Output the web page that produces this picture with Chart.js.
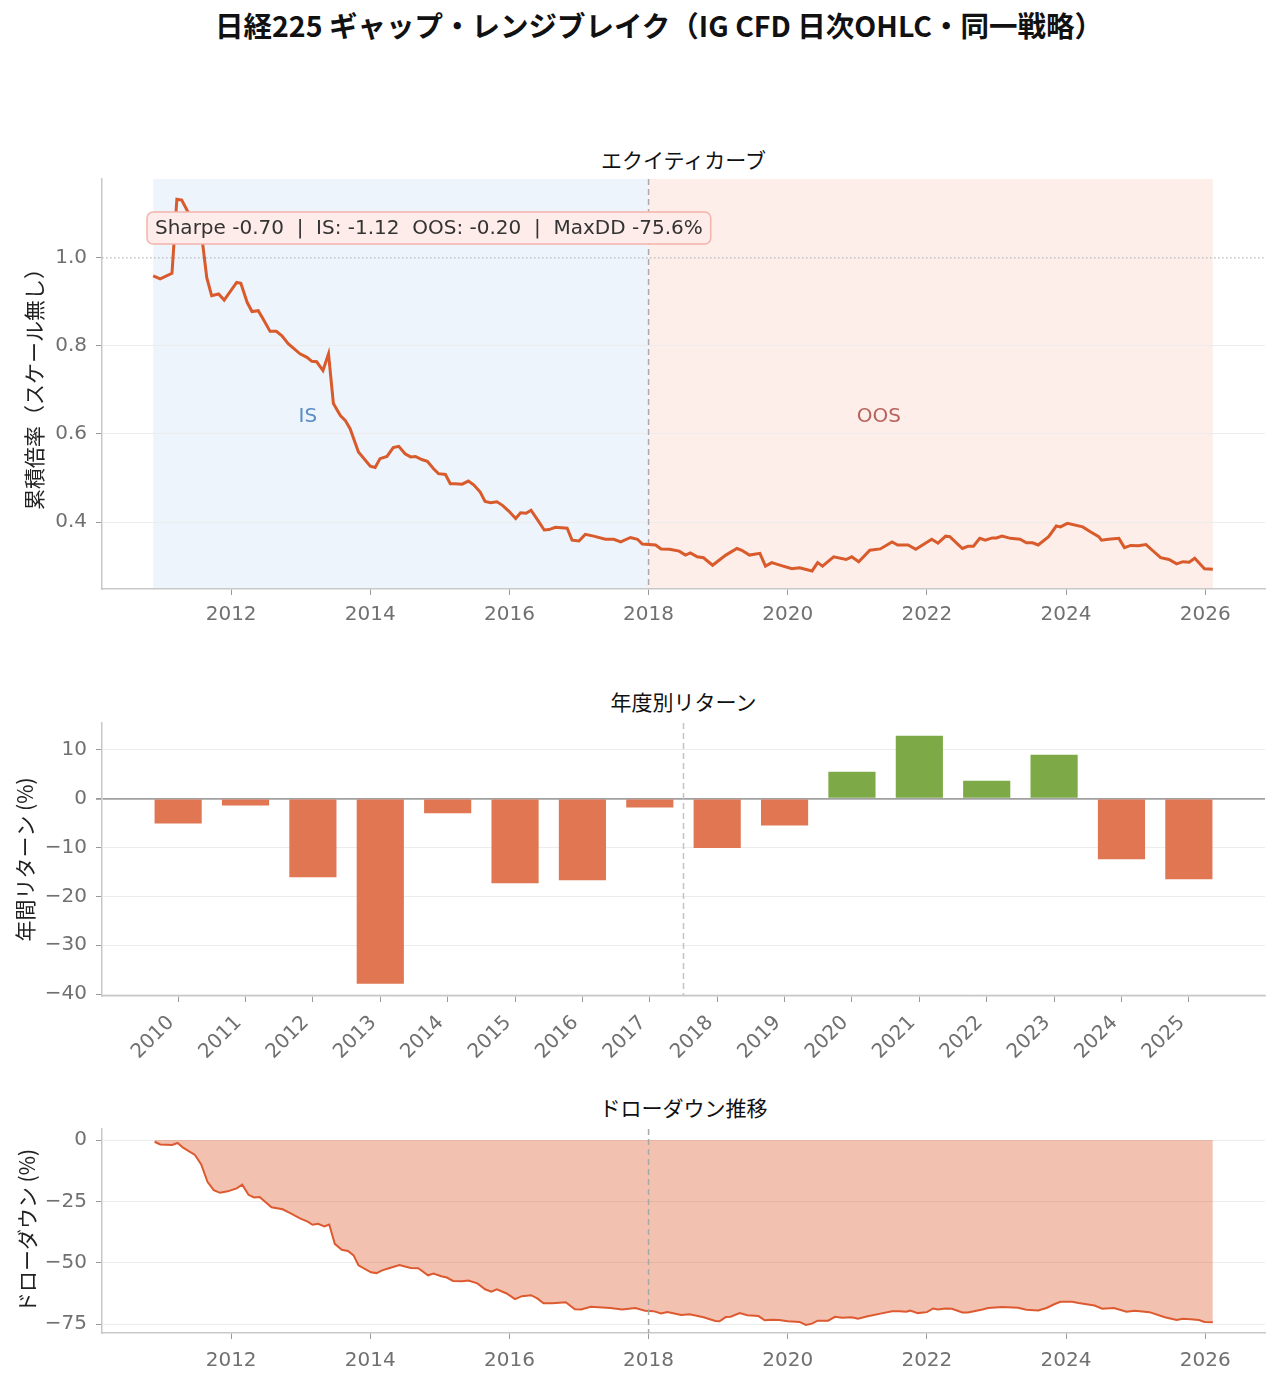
<!DOCTYPE html>
<html lang="ja">
<head>
<meta charset="utf-8">
<title>日経225 ギャップ・レンジブレイク</title>
<script src="https://cdn.jsdelivr.net/npm/chart.js@4.4.1/dist/chart.umd.min.js"></script>
<style>
  html, body { margin: 0; padding: 0; background: #fff; }
  body { width: 1279px; height: 1384px; position: relative; overflow: hidden; font-family: "Noto Sans CJK JP", sans-serif; }
  .title { position: absolute; left: 0; width: 1318px; top: 7px; text-align: center; font-size: 28.5px; font-weight: bold; line-height: 36px; color: #111; }
  .sub { position: absolute; left: 102px; width: 1163px; text-align: center; font-size: 21px; line-height: 24px; color: #111; }
  canvas { position: absolute; left: 0; }
</style>
</head>
<body>
<div class="title">日経225 ギャップ・レンジブレイク（IG CFD 日次OHLC・同一戦略）</div>
<div class="sub" style="top:147px">エクイティカーブ</div>
<canvas id="eq" width="1279" height="472" style="top:158px"></canvas>
<div class="sub" style="top:689px">年度別リターン</div>
<canvas id="yr" width="1279" height="374" style="top:702px"></canvas>
<div class="sub" style="top:1095px">ドローダウン推移</div>
<canvas id="dd" width="1279" height="274" style="top:1108px"></canvas>
<script>
// equity curve (decimal year, multiple)
const EQUITY_T = [2010.88, 2010.98, 2011.15, 2011.22, 2011.29, 2011.41, 2011.58, 2011.65, 2011.72, 2011.82, 2011.90,
  2012.08, 2012.14, 2012.23, 2012.30, 2012.39, 2012.46, 2012.56, 2012.65, 2012.73, 2012.82, 2012.99,
  2013.09, 2013.16, 2013.23, 2013.32, 2013.40, 2013.47, 2013.57, 2013.64, 2013.71, 2013.83,
  2014.00, 2014.07, 2014.14, 2014.24, 2014.33, 2014.41, 2014.50, 2014.58, 2014.65, 2014.74, 2014.82, 2014.91, 2014.98,
  2015.08, 2015.15, 2015.22, 2015.32, 2015.41, 2015.49, 2015.58, 2015.65, 2015.73, 2015.82, 2015.90, 2015.99,
  2016.09, 2016.16, 2016.24, 2016.31, 2016.40, 2016.50, 2016.57, 2016.66, 2016.83, 2016.90,
  2017.00, 2017.09, 2017.21, 2017.38, 2017.50, 2017.60, 2017.74, 2017.84, 2017.91,
  2018.10, 2018.18, 2018.30, 2018.44, 2018.53, 2018.60, 2018.70, 2018.79, 2018.92,
  2019.11, 2019.27, 2019.34, 2019.45, 2019.60, 2019.68, 2019.77, 2019.91,
  2020.06, 2020.17, 2020.35, 2020.43, 2020.50, 2020.66, 2020.84, 2020.92,
  2021.02, 2021.18, 2021.33, 2021.50, 2021.58, 2021.73, 2021.84,
  2022.07, 2022.16, 2022.27, 2022.33, 2022.51, 2022.59, 2022.67, 2022.76, 2022.84, 2022.94,
  2023.00, 2023.08, 2023.20, 2023.34, 2023.43, 2023.52, 2023.60, 2023.75, 2023.86, 2023.92,
  2024.02, 2024.24, 2024.35, 2024.47, 2024.51, 2024.61, 2024.76, 2024.84, 2024.93,
  2025.04, 2025.15, 2025.24, 2025.36, 2025.48, 2025.59, 2025.68, 2025.77, 2025.85, 2025.99, 2026.11];
const EQUITY_V = [0.959, 0.952, 0.965, 1.133, 1.131, 1.095, 1.046, 0.955, 0.914, 0.918, 0.904,
  0.944, 0.942, 0.899, 0.878, 0.880, 0.861, 0.833, 0.833, 0.823, 0.805, 0.782,
  0.774, 0.765, 0.764, 0.744, 0.782, 0.669, 0.642, 0.631, 0.612, 0.559,
  0.527, 0.524, 0.544, 0.549, 0.569, 0.572, 0.555, 0.548, 0.549, 0.542, 0.538, 0.521, 0.510,
  0.508, 0.487, 0.487, 0.486, 0.493, 0.484, 0.468, 0.447, 0.444, 0.446, 0.438, 0.425,
  0.408, 0.421, 0.420, 0.427, 0.406, 0.382, 0.383, 0.388, 0.386, 0.359,
  0.357, 0.372, 0.368, 0.361, 0.361, 0.355, 0.365, 0.361, 0.350,
  0.348, 0.339, 0.338, 0.334, 0.325, 0.330, 0.321, 0.319, 0.302,
  0.325, 0.340, 0.336, 0.325, 0.329, 0.300, 0.308, 0.301,
  0.294, 0.296, 0.289, 0.308, 0.300, 0.321, 0.315, 0.321,
  0.310, 0.336, 0.339, 0.355, 0.348, 0.348, 0.338,
  0.361, 0.352, 0.368, 0.367, 0.340, 0.345, 0.345, 0.363, 0.359, 0.364,
  0.364, 0.368, 0.363, 0.361, 0.353, 0.353, 0.348, 0.367, 0.391, 0.389,
  0.397, 0.389, 0.378, 0.367, 0.359, 0.361, 0.363, 0.342, 0.347,
  0.346, 0.349, 0.336, 0.319, 0.315, 0.305, 0.310, 0.309, 0.318, 0.294, 0.293];

// drawdown (decimal year, %)
const DD_T = [2010.90, 2010.98, 2011.15, 2011.23, 2011.31, 2011.48, 2011.57, 2011.66, 2011.75, 2011.84, 2011.95,
  2012.08, 2012.16, 2012.25, 2012.33, 2012.41, 2012.58, 2012.74, 2012.85, 2012.99,
  2013.10, 2013.17, 2013.25, 2013.34, 2013.41, 2013.49, 2013.59, 2013.68, 2013.76, 2013.83,
  2014.01, 2014.09, 2014.17, 2014.28, 2014.42, 2014.58, 2014.69, 2014.83, 2014.91,
  2015.02, 2015.10, 2015.19, 2015.32, 2015.41, 2015.54, 2015.65, 2015.74, 2015.82, 2015.96,
  2016.08, 2016.18, 2016.31, 2016.40, 2016.49, 2016.62, 2016.81, 2016.94,
  2017.03, 2017.17, 2017.45, 2017.62, 2017.81, 2017.95,
  2018.07, 2018.18, 2018.27, 2018.47, 2018.59, 2018.79, 2018.96,
  2019.02, 2019.11, 2019.18, 2019.31, 2019.42, 2019.58, 2019.67, 2019.77, 2019.88,
  2020.00, 2020.17, 2020.26, 2020.35, 2020.43, 2020.58, 2020.68, 2020.78, 2020.92,
  2021.01, 2021.15, 2021.35, 2021.50, 2021.61, 2021.70, 2021.76, 2021.87,
  2022.00, 2022.09, 2022.16, 2022.27, 2022.36, 2022.51, 2022.59, 2022.80, 2022.88,
  2023.08, 2023.31, 2023.43, 2023.60, 2023.72, 2023.83, 2023.92,
  2024.09, 2024.18, 2024.41, 2024.52, 2024.69, 2024.87, 2024.99,
  2025.20, 2025.42, 2025.59, 2025.68, 2025.79, 2025.91, 2025.99, 2026.11];
const DD_V = [-0.7, -1.8, -2.0, -1.2, -3.1, -6.1, -9.9, -17.0, -20.4, -21.5, -20.9,
  -19.7, -18.2, -22.3, -23.4, -23.2, -27.4, -28.2, -29.8, -31.9,
  -33.2, -34.5, -34.1, -35.2, -34.4, -42.3, -44.7, -45.2, -47.0, -51.0,
  -53.9, -54.2, -53.1, -52.1, -50.9, -52.1, -52.2, -55.1, -54.4,
  -55.5, -56.0, -57.4, -57.5, -57.2, -58.4, -60.8, -61.8, -60.8, -62.5,
  -64.8, -63.6, -63.2, -64.5, -66.5, -66.5, -66.1, -68.9,
  -69.0, -67.9, -68.4, -69.0, -68.4, -69.5,
  -69.7, -70.6, -70.1, -71.3, -71.0, -72.2, -73.7,
  -73.8, -72.1, -72.0, -70.5, -71.4, -71.7, -73.4, -73.2, -73.3,
  -73.8, -74.1, -75.3, -74.8, -73.6, -73.6, -72.0, -72.4, -72.2,
  -72.8, -71.8, -70.6, -69.7, -69.7, -69.9, -69.5, -70.5,
  -70.1, -68.6, -69.0, -68.6, -68.7, -70.2, -70.2, -69.0, -68.4,
  -68.0, -68.3, -69.1, -69.4, -68.4, -66.9, -65.9,
  -65.9, -66.4, -67.4, -68.7, -68.4, -69.9, -69.5,
  -70.1, -72.2, -73.3, -72.8, -73.0, -73.3, -74.1, -74.2];

// annual returns (%)
const YEARS = ['2010', '2011', '2012', '2013', '2014', '2015', '2016', '2017',
  '2018', '2019', '2020', '2021', '2022', '2023', '2024', '2025'];
const ANNUAL_RET = [-5.1, -1.4, -16.1, -37.9, -3.0, -17.3, -16.7, -1.8,
  -10.1, -5.5, 5.5, 12.9, 3.7, 9.0, -12.4, -16.5];

const YEAR_TICKS = [2012, 2014, 2016, 2018, 2020, 2022, 2024, 2026];
const EQ_TICKS = [0.4, 0.6, 0.8, 1.0];
const RET_TICKS = [10, 0, -10, -20, -30, -40];
const DD_TICKS = [0, -25, -50, -75];

const IS_START = 2010.88, SPLIT = 2018.0, OOS_END = 2026.11;
const SPLIT_BAR = 7.5;
const STATS_TEXT = 'Sharpe -0.70  |  IS: -1.12  OOS: -0.20  |  MaxDD -75.6%';

const TICK_FONT = { family: 'DejaVu Sans', size: 20 };
const TICK_COLOR = '#707070';
const minus = v => String(v).replace('-', '\u2212');

function yAxis(o) {
  return {
    min: o.min, max: o.max, z: o.z || 0,
    afterFit: s => { s.width = 102; },
    afterBuildTicks: s => { s.ticks = o.ticks.map(v => ({ value: v })); },
    ticks: { font: TICK_FONT, color: TICK_COLOR, padding: 9, callback: o.fmt },
    grid: { color: o.gridColor || '#ececec', lineWidth: o.gridWidth || 1, tickLength: 6, tickColor: '#999' },
    border: { color: '#c8c8c8', width: 1.5 },
    title: { display: true, text: o.title, color: '#222',
      font: { family: 'Noto Sans CJK JP', size: 21 }, padding: { top: o.titlePad, bottom: 0 } }
  };
}

function timeAxis(h, pad) {
  return {
    type: 'linear', min: 2010.144, max: 2026.86,
    afterFit: s => { s.height = h; },
    afterBuildTicks: s => { s.ticks = YEAR_TICKS.map(v => ({ value: v })); },
    ticks: { font: TICK_FONT, color: TICK_COLOR, padding: pad, callback: v => String(v) },
    grid: { drawOnChartArea: false, tickLength: 6, tickColor: '#999' },
    border: { color: '#c8c8c8', width: 1.5 }
  };
}

function vline(c, value, color) {
  const { ctx, chartArea: a, scales: { x } } = c;
  const px = x.getPixelForValue(value);
  ctx.save();
  ctx.strokeStyle = color;
  ctx.lineWidth = 1.5;
  ctx.setLineDash([6, 4]);
  ctx.beginPath();
  ctx.moveTo(px, a.top);
  ctx.lineTo(px, a.bottom);
  ctx.stroke();
  ctx.restore();
}

const base = {
  responsive: false,
  animation: false,
  layout: { padding: { top: 0, right: 14, left: 0, bottom: 0 } },
  plugins: { legend: { display: false }, tooltip: { enabled: false } }
};

// Equity curve
const eqDecor = {
  id: 'eqDecor',
  beforeDraw(c) {
    const { ctx, chartArea: a, scales: { x } } = c;
    const x0 = x.getPixelForValue(IS_START), x1 = x.getPixelForValue(SPLIT), x2 = x.getPixelForValue(OOS_END);
    ctx.save();
    ctx.fillStyle = '#EDF4FC';
    ctx.fillRect(x0, a.top, x1 - x0, a.bottom - a.top);
    ctx.fillStyle = '#FDEEEA';
    ctx.fillRect(x1, a.top, x2 - x1, a.bottom - a.top);
    ctx.restore();
  },
  beforeDatasetsDraw(c) {
    const { ctx, chartArea: a, scales: { y } } = c;
    const py = y.getPixelForValue(1.0);
    ctx.save();
    ctx.strokeStyle = '#b5b5b5';
    ctx.lineWidth = 1.2;
    ctx.setLineDash([1.5, 2.5]);
    ctx.beginPath();
    ctx.moveTo(a.left, py);
    ctx.lineTo(a.right, py);
    ctx.stroke();
    ctx.restore();
    vline(c, SPLIT, '#aaaaaa');
  },
  afterDatasetsDraw(c) {
    const { ctx, chartArea: a } = c;
    const w = a.right - a.left, h = a.bottom - a.top;
    ctx.save();
    ctx.font = '20px "DejaVu Sans"';
    const tw = ctx.measureText(STATS_TEXT).width;
    const bx = a.left + 45, by = a.top + 33, bw = tw + 16, bh = 32;
    ctx.beginPath();
    ctx.roundRect(bx, by, bw, bh, 6);
    ctx.fillStyle = '#FDECE9';
    ctx.fill();
    ctx.strokeStyle = '#F2B3AA';
    ctx.lineWidth = 1.5;
    ctx.stroke();
    ctx.fillStyle = '#333';
    ctx.textBaseline = 'middle';
    ctx.fillText(STATS_TEXT, bx + 8, by + bh / 2 + 1);
    ctx.textAlign = 'center';
    ctx.fillStyle = '#5B8CC6';
    ctx.fillText('IS', a.left + 0.177 * w, a.top + 0.58 * h);
    ctx.fillStyle = '#B8625C';
    ctx.fillText('OOS', a.left + 0.668 * w, a.top + 0.58 * h);
    ctx.restore();
  }
};

new Chart(document.getElementById('eq'), {
  type: 'line',
  data: { datasets: [{
    data: EQUITY_T.map((t, i) => ({ x: t, y: EQUITY_V[i] })),
    borderColor: '#D95A2B', borderWidth: 3, pointRadius: 0, tension: 0, fill: false
  }] },
  options: Object.assign({}, base, {
    scales: {
      x: timeAxis(41, 8),
      y: yAxis({ min: 0.248, max: 1.179, ticks: EQ_TICKS, fmt: v => v.toFixed(1),
        title: '累積倍率（スケール無し）', titlePad: 21,
        gridColor: ctx => (ctx.tick && ctx.tick.value === 1 ? 'rgba(0,0,0,0)' : '#ececec') })
    }
  }),
  plugins: [eqDecor]
});

// Annual returns
const yrDecor = {
  id: 'yrDecor',
  afterDatasetsDraw(c) { vline(c, SPLIT_BAR, '#c4c4c4'); }
};

new Chart(document.getElementById('yr'), {
  type: 'bar',
  data: { datasets: [{
    data: ANNUAL_RET.map((v, i) => ({ x: i, y: v })),
    backgroundColor: ANNUAL_RET.map(v => (v >= 0 ? '#7DAA47' : '#E07652')),
    barPercentage: 0.7, categoryPercentage: 1.0
  }] },
  options: Object.assign({}, base, {
    scales: {
      x: {
        type: 'linear', min: -1.13, max: YEARS.length - 1 + 1.13, offset: false,
        afterFit: s => { s.height = 80; },
        afterBuildTicks: s => { s.ticks = YEARS.map((y, i) => ({ value: i })); },
        ticks: { font: TICK_FONT, color: TICK_COLOR, padding: 9, labelOffset: -7, minRotation: 45, maxRotation: 45,
          autoSkip: false, callback: v => YEARS[v] },
        grid: { drawOnChartArea: false, offset: false, tickLength: 6, tickColor: '#999' },
        border: { color: '#c8c8c8', width: 1.5 }
      },
      y: yAxis({ min: -40.4, max: 15.5, ticks: RET_TICKS, fmt: v => minus(v),
        title: '年間リターン (%)', titlePad: 12,
        gridColor: ctx => (ctx.tick && ctx.tick.value === 0 ? '#a0a0a0' : '#ececec'),
        gridWidth: ctx => (ctx.tick && ctx.tick.value === 0 ? 1.8 : 1) })
    }
  }),
  plugins: [yrDecor]
});

// Drawdown
const ddDecor = {
  id: 'ddDecor',
  afterDatasetsDraw(c) { vline(c, SPLIT, '#a8a8a8'); }
};

new Chart(document.getElementById('dd'), {
  type: 'line',
  data: { datasets: [{
    data: DD_T.map((t, i) => ({ x: t, y: DD_V[i] })),
    borderColor: '#DD5A30', borderWidth: 2, pointRadius: 0, tension: 0,
    fill: 'origin', backgroundColor: 'rgba(222,91,48,0.38)'
  }] },
  options: Object.assign({}, base, {
    scales: {
      x: timeAxis(49, 10),
      y: yAxis({ min: -78.6, max: 4.5, ticks: DD_TICKS, fmt: v => minus(v),
        title: 'ドローダウン (%)', titlePad: 14, z: 1 })
    }
  }),
  plugins: [ddDecor]
});
</script>
</body>
</html>
